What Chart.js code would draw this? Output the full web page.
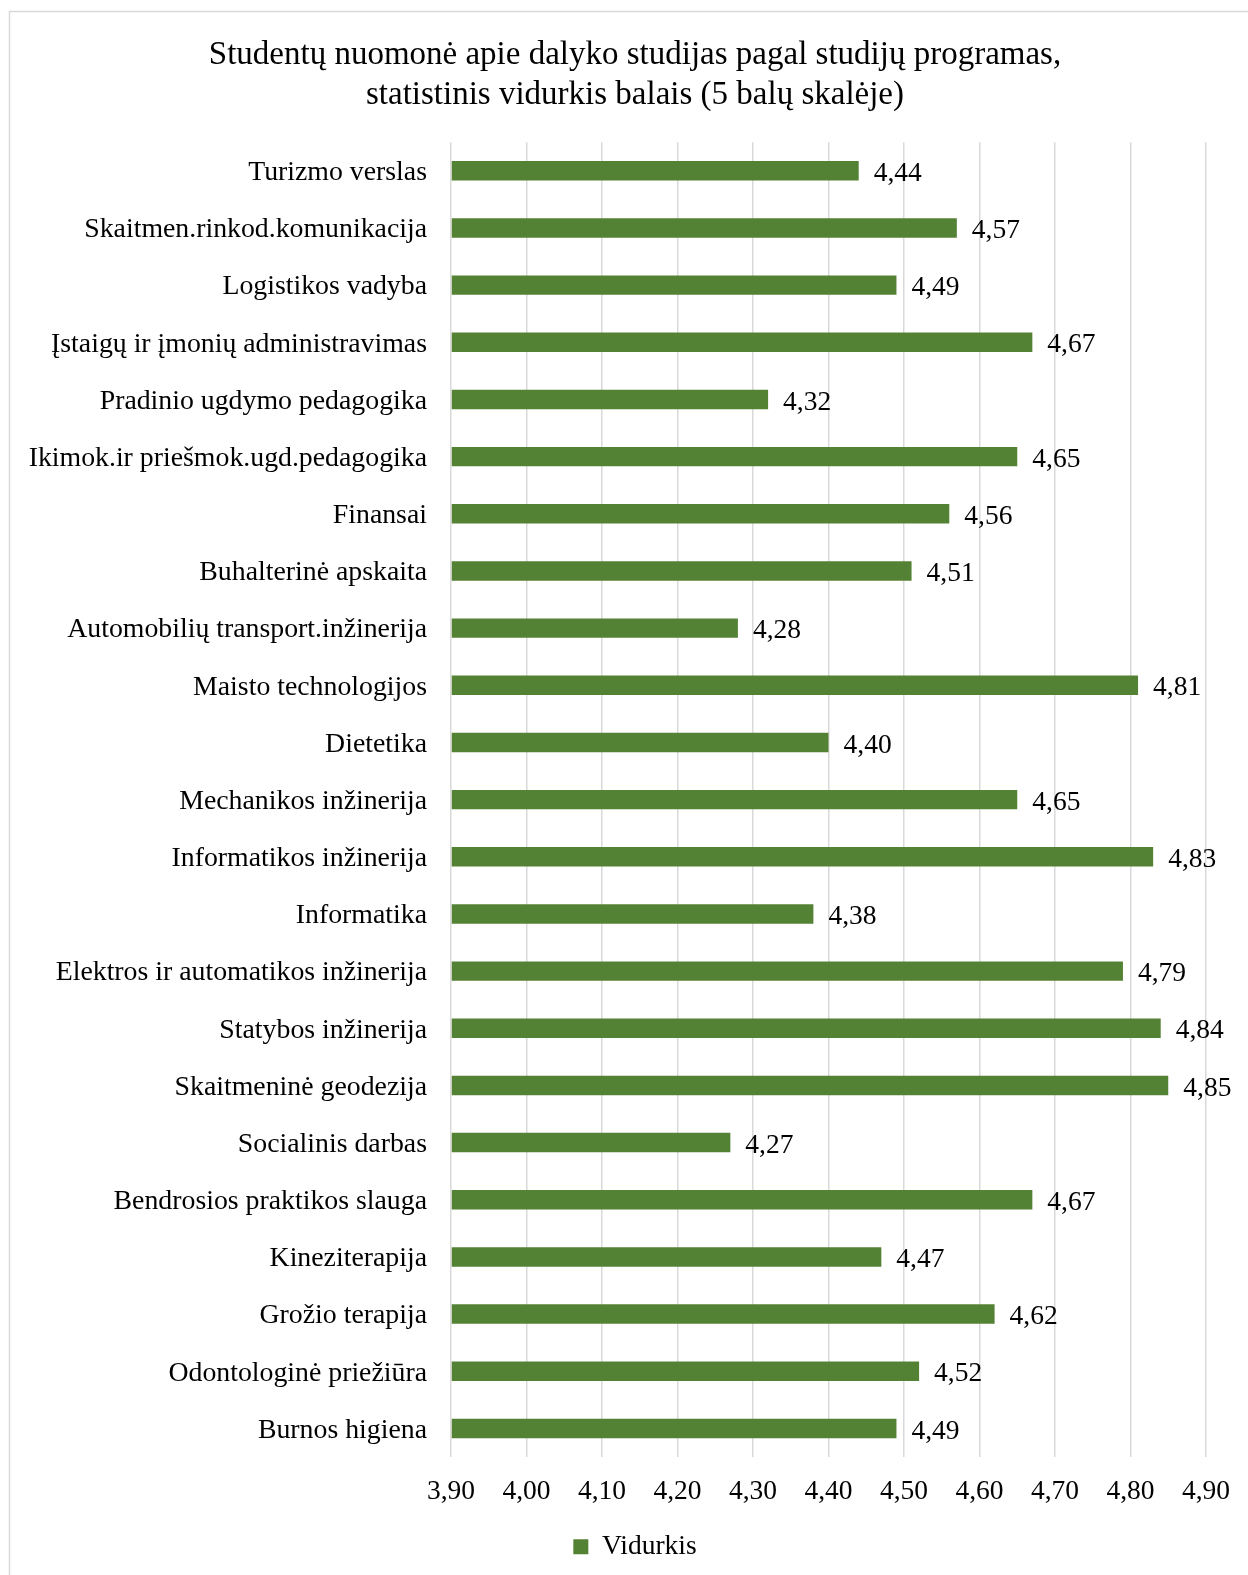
<!DOCTYPE html>
<html>
<head>
<meta charset="utf-8">
<script src="https://cdn.jsdelivr.net/npm/chart.js@4"></script>
<style>
  html, body { margin: 0; padding: 0; background: #fff; overflow: hidden; }
  #wrap { width: 1248px; height: 1575px; position: relative; overflow: hidden; }
</style>
</head>
<body>
<div id="wrap"><canvas id="c" width="1270" height="1575"></canvas></div>
<script>
const titleLines = [
  'Studentų nuomonė apie dalyko studijas pagal studijų programas,',
  'statistinis vidurkis balais (5 balų skalėje)'
];
const categories = [
  'Turizmo verslas',
  'Skaitmen.rinkod.komunikacija',
  'Logistikos vadyba',
  'Įstaigų ir įmonių administravimas',
  'Pradinio ugdymo pedagogika',
  'Ikimok.ir priešmok.ugd.pedagogika',
  'Finansai',
  'Buhalterinė apskaita',
  'Automobilių transport.inžinerija',
  'Maisto technologijos',
  'Dietetika',
  'Mechanikos inžinerija',
  'Informatikos inžinerija',
  'Informatika',
  'Elektros ir automatikos inžinerija',
  'Statybos inžinerija',
  'Skaitmeninė geodezija',
  'Socialinis darbas',
  'Bendrosios praktikos slauga',
  'Kineziterapija',
  'Grožio terapija',
  'Odontologinė priežiūra',
  'Burnos higiena'
];
const seriesLabel = 'Vidurkis';
const values = [4.44, 4.57, 4.49, 4.67, 4.32, 4.65, 4.56, 4.51, 4.28, 4.81, 4.40, 4.65, 4.83, 4.38, 4.79, 4.84, 4.85, 4.27, 4.67, 4.47, 4.62, 4.52, 4.49];
const tickLabels = ['3,90', '4,00', '4,10', '4,20', '4,30', '4,40', '4,50', '4,60', '4,70', '4,80', '4,90'];
const axisMin = 3.9;
const axisMax = 4.9;
const axisStep = 0.1;

const FONT = '"Liberation Serif", "Times New Roman", serif';
const GREEN = '#548235';

const frame = {
  id: 'frame',
  beforeDraw(chart) {
    const ctx = chart.ctx;
    ctx.save();
    ctx.fillStyle = '#ffffff';
    ctx.fillRect(0, 0, chart.width, chart.height);
    ctx.strokeStyle = '#d9d9d9';
    ctx.lineWidth = 1.5;
    ctx.strokeRect(9.5, 11.5, chart.width + 20, chart.height + 20);
    ctx.restore();
  }
};

const valueLabels = {
  id: 'valueLabels',
  afterDatasetsDraw(chart) {
    const ctx = chart.ctx;
    ctx.save();
    ctx.font = '27.5px ' + FONT;
    ctx.fillStyle = '#000';
    ctx.textAlign = 'left';
    ctx.textBaseline = 'middle';
    const meta = chart.getDatasetMeta(0);
    meta.data.forEach((bar, i) => {
      const v = chart.data.datasets[0].data[i];
      ctx.fillText(v.toFixed(2).replace('.', ','), bar.x + 15, bar.y + 3);
    });
    ctx.restore();
  }
};

new Chart(document.getElementById('c'), {
  type: 'bar',
  data: {
    labels: categories,
    datasets: [{
      label: seriesLabel,
      data: values,
      base: axisMin,
      backgroundColor: GREEN,
      borderColor: GREEN,
      borderWidth: 0,
      categoryPercentage: 1,
      barPercentage: 0.34
    }]
  },
  options: {
    indexAxis: 'y',
    responsive: false,
    animation: false,
    devicePixelRatio: 1,
    layout: { padding: { left: 0, right: 0, top: 0, bottom: 4.5 } },
    scales: {
      x: {
        min: axisMin,
        max: axisMax,
        ticks: {
          stepSize: axisStep,
          padding: 18,
          color: '#000',
          font: { family: FONT, size: 27.5 },
          maxRotation: 0,
          autoSkip: false,
          callback: (v, i) => tickLabels[i]
        },
        grid: { color: '#d9d9d9', lineWidth: 1.5, drawTicks: false },
        border: { display: false },
        afterFit: (s) => { s.height = 66; }
      },
      y: {
        ticks: {
          padding: 16,
          labelOffset: 2,
          color: '#000',
          font: { family: FONT, size: 27.8 },
          autoSkip: false
        },
        grid: { display: false },
        border: { display: false },
        afterFit: (s) => { s.width = 451; }
      },
      yRight: {
        type: 'category',
        position: 'right',
        display: true,
        ticks: { display: false },
        grid: { display: false },
        border: { display: false },
        afterFit: (s) => { s.width = 64; }
      }
    },
    plugins: {
      title: {
        display: true,
        text: titleLines,
        color: '#000',
        font: { family: FONT, size: 33, weight: 'normal', lineHeight: 1.2 },
        padding: { top: 36, bottom: 27 }
      },
      legend: {
        display: true,
        position: 'bottom',
        labels: {
          color: '#000',
          font: { family: FONT, size: 27.5 },
          boxWidth: 15,
          boxHeight: 15,
          padding: 10
        }
      },
      tooltip: { enabled: false }
    }
  },
  plugins: [frame, valueLabels]
});
</script>
</body>
</html>
